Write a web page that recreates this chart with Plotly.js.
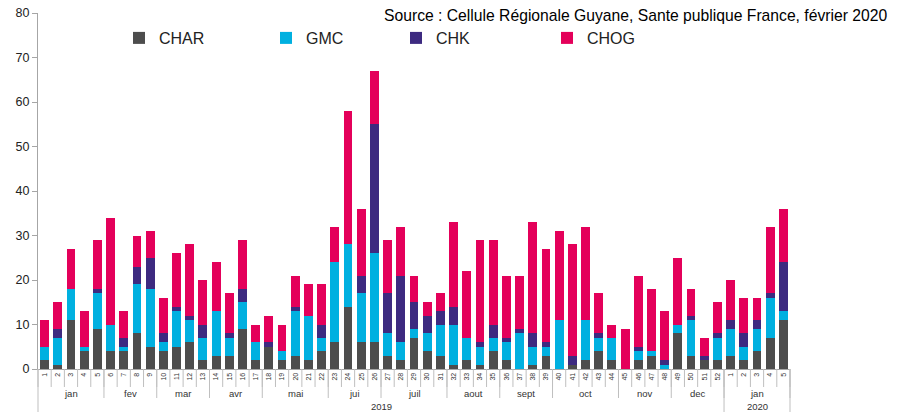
<!DOCTYPE html>
<html>
<head>
<meta charset="utf-8">
<script src="https://cdn.plot.ly/plotly-3.0.1.min.js"></script>
<style>html,body{margin:0;padding:0;background:#fff;}#chart{width:900px;height:412px;}</style>
</head>
<body>
<div id="chart"></div>
<script>
// Week labels (2019 weeks 1-52, then 2020 weeks 1-5)
const weekLabels = ["1","2","3","4","5","6","7","8","9","10","11","12","13","14","15","16","17","18","19","20","21","22","23","24","25","26","27","28","29","30","31","32","33","34","35","36","37","38","39","40","41","42","43","44","45","46","47","48","49","50","51","52","1","2","3","4","5"];

const CHAR = [2,1,11,4,9,4,4,8,5,4,5,6,2,3,3,9,2,5,2,3,2,4,6,14,6,6,3,2,7,4,3,1,2,1,4,2,0,1,3,0,1,2,4,2,0,2,3,0,8,3,2,2,3,2,4,7,11];
const GMC  = [3,6,7,1,8,6,1,11,13,2,8,5,5,10,4,6,4,0,2,10,10,3,18,14,11,20,5,4,2,4,7,9,5,4,3,4,8,4,2,11,0,9,3,5,0,2,1,1,2,8,0,5,6,3,5,9,2];
const CHK  = [0,2,0,0,1,0,2,4,7,2,1,1,3,0,1,3,0,1,0,1,0,3,0,0,4,29,9,15,6,4,3,4,0,1,3,1,1,3,1,0,2,0,1,0,0,1,0,1,0,1,1,1,2,3,2,1,11];
const CHOG = [6,6,9,8,11,24,6,7,6,8,12,16,10,11,9,11,4,6,6,7,7,9,8,30,15,12,12,11,6,3,4,19,15,23,19,14,12,25,21,20,25,21,9,3,9,16,14,11,15,6,4,7,9,8,5,15,12];

const monthLabels = ["jan","fev","mar","avr","mai","jui","juil","aout","sept","oct","nov","dec","jan"];
const monthSpans  = [5,4,4,4,5,4,5,4,4,5,4,4,5];
const yearLabels  = ["2019","2020"];
const yearSpans   = [52,5];

const seriesNames  = ["CHAR","GMC","CHK","CHOG"];
const seriesValues = [CHAR, GMC, CHK, CHOG];
const seriesColors = ["#4d4d4d","#00b0e0","#3d2a80","#e4005a"];
const sourceText = "Source : Cellule Régionale Guyane, Sante publique France, février 2020";

const FONT = "Liberation Sans, Arial, sans-serif";
const N = weekLabels.length;
const idx = weekLabels.map((_, i) => i);

// layout geometry (pixels)
const W = 900, H = 412;
const M = {l: 38, r: 110, t: 13, b: 43};
const plotW = W - M.l - M.r, plotH = H - M.t - M.b;
const px2paperX = px => (px - M.l) / plotW;
const px2paperY = py => (H - M.b - py) / plotH;

const legendLefts = [119, 266, 396, 547];
const legendNames = ["legend","legend2","legend3","legend4"];

const traces = seriesNames.map((name, k) => ({
  type: "bar",
  name: name,
  x: idx,
  y: seriesValues[k],
  marker: {color: seriesColors[k], line: {width: 0}},
  legend: legendNames[k],
  hoverinfo: "skip"
}));

const shapes = [];
const annotations = [];
const lineColor = "#bfbfbf";
// week separators
for (let i = 0; i <= N; i++) {
  shapes.push({type: "line", xref: "paper", yref: "paper", x0: i / N, x1: i / N,
    y0: 0, y1: px2paperY(387), line: {color: lineColor, width: 1}});
}
// month separators and labels
let pos = 0;
monthLabels.forEach((lab, j) => {
  const start = pos, end = pos + monthSpans[j];
  annotations.push({text: lab, xref: "paper", yref: "paper", x: (start + end) / 2 / N,
    y: px2paperY(393), showarrow: false, xanchor: "center", yanchor: "middle",
    font: {family: FONT, size: 9.5, color: "#333"}});
  shapes.push({type: "line", xref: "paper", yref: "paper", x0: end / N, x1: end / N,
    y0: 0, y1: px2paperY(398), line: {color: lineColor, width: 1}});
  pos = end;
});
// year separators and labels
pos = 0;
shapes.push({type: "line", xref: "paper", yref: "paper", x0: 0, x1: 0,
  y0: 0, y1: px2paperY(412), line: {color: lineColor, width: 1}});
yearLabels.forEach((lab, j) => {
  const start = pos, end = pos + yearSpans[j];
  annotations.push({text: lab, xref: "paper", yref: "paper", x: (start + end) / 2 / N,
    y: px2paperY(406), showarrow: false, xanchor: "center", yanchor: "middle",
    font: {family: FONT, size: 9.5, color: "#333"}});
  shapes.push({type: "line", xref: "paper", yref: "paper", x0: end / N, x1: end / N,
    y0: 0, y1: px2paperY(412), line: {color: lineColor, width: 1}});
  pos = end;
});
// source
annotations.push({text: sourceText, xref: "paper", yref: "paper", x: px2paperX(889),
  y: px2paperY(15), showarrow: false, xanchor: "right", yanchor: "middle",
  font: {family: FONT, size: 15.7, color: "#000"}});

const layout = {
  width: W, height: H,
  margin: M,
  paper_bgcolor: "#fff", plot_bgcolor: "#fff",
  barmode: "stack",
  bargap: 0.33,
  font: {family: FONT, color: "#222"},
  showlegend: true,
  xaxis: {
    range: [-0.5, N - 0.5],
    tickmode: "array", tickvals: idx, ticktext: weekLabels,
    tickangle: -90, ticks: "", tickfont: {size: 7, color: "#333"},
    showline: true, linecolor: "#a6a6a6", linewidth: 1,
    showgrid: false, zeroline: false, fixedrange: true
  },
  yaxis: {
    range: [0, 80], dtick: 10, ticks: "outside", ticklen: 5, tickcolor: "#a6a6a6",
    tickfont: {size: 12.5, color: "#222"},
    showline: true, linecolor: "#a6a6a6", linewidth: 1,
    showgrid: false, zeroline: false, fixedrange: true
  },
  shapes: shapes,
  annotations: annotations
};
legendNames.forEach((ln, k) => {
  layout[ln] = {x: px2paperX(legendLefts[k]), xanchor: "left", y: px2paperY(38), yanchor: "middle",
    orientation: "h", bgcolor: "rgba(0,0,0,0)", borderwidth: 0,
    font: {family: FONT, size: 16, color: "#222"}};
});

Plotly.newPlot("chart", traces, layout, {displayModeBar: false, staticPlot: true});
</script>
</body>
</html>
